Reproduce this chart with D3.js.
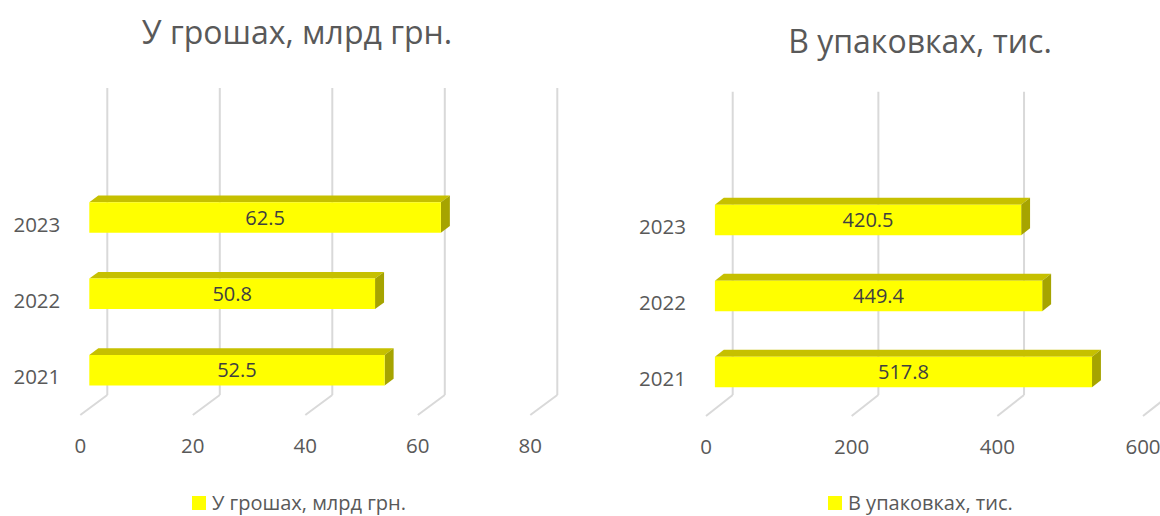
<!DOCTYPE html>
<html>
<head>
<meta charset="utf-8">
<script src="https://cdn.jsdelivr.net/npm/d3@7/dist/d3.min.js"></script>
<style>
  html, body { margin: 0; padding: 0; background: #ffffff; }
  svg { display: block; font-family: "Open Sans", "Noto Sans", sans-serif; }
</style>
</head>
<body>
<svg id="chart" width="1160" height="516"></svg>
<script>
// ---- data ----
const years = ["2021", "2022", "2023"];
const moneyValues = [52.5, 50.8, 62.5];
const packValues = [517.8, 449.4, 420.5];
const moneyTicks = [0, 20, 40, 60, 80];
const packTicks = [0, 200, 400, 600];
const moneyTitle = "У грошах, млрд грн.";
const packTitle = "В упаковках, тис.";

const svg = d3.select("#chart");
const TEXT = "#595959";
const FRONT = "#FFFF00", TOP = "#C6C000", SIDE = "#A6A400";

function drawChart(cfg) {
  const g = svg.append("g");
  const xs = d3.scaleLinear().domain(cfg.domain).range(cfg.xRange);
  const yb = d3.scaleBand().domain(years).range(cfg.yRange).paddingInner(0.6).paddingOuter(0.3);
  const P = (v, y, d) => [xs(v) + cfg.dx * d, y + cfg.dy * d];

  // back-wall gridlines
  g.selectAll("line.grid").data(cfg.ticks).join("line")
    .attr("x1", d => xs(d)).attr("x2", d => xs(d))
    .attr("y1", cfg.gridTop).attr("y2", cfg.floorY)
    .attr("stroke", "#d9d9d9").attr("stroke-width", 2);
  // floor lines
  g.selectAll("line.floor").data(cfg.ticks).join("line")
    .attr("x1", d => P(d, cfg.floorY, 0)[0]).attr("y1", d => P(d, cfg.floorY, 0)[1])
    .attr("x2", d => P(d, cfg.floorY, 1)[0]).attr("y2", d => P(d, cfg.floorY, 1)[1])
    .attr("stroke", "#d9d9d9").attr("stroke-width", 2);

  const rows = years.map((y, i) => ({ year: y, value: cfg.values[i] }));
  const dB = 1 / 3, dF = 2 / 3;
  const poly = pts => pts.map(p => p.join(",")).join(" ");

  const bars = g.selectAll("g.bar").data(rows).join("g");
  bars.each(function (r) {
    const b = d3.select(this);
    const t = yb(r.year), bt = t + yb.bandwidth();
    b.append("polygon").attr("fill", TOP)
      .attr("points", poly([P(0, t, dF), P(0, t, dB), P(r.value, t, dB), P(r.value, t, dF)]));
    b.append("polygon").attr("fill", SIDE)
      .attr("points", poly([P(r.value, t, dF), P(r.value, t, dB), P(r.value, bt, dB), P(r.value, bt, dF)]));
    b.append("polygon").attr("fill", FRONT)
      .attr("points", poly([P(0, t, dF), P(r.value, t, dF), P(r.value, bt, dF), P(0, bt, dF)]));
    const c0 = P(0, (t + bt) / 2, dF), c1 = P(r.value, (t + bt) / 2, dF);
    b.append("text")
      .attr("x", (c0[0] + c1[0]) / 2).attr("y", c0[1]).attr("dy", "0.36em")
      .attr("text-anchor", "middle").attr("fill", "#404040")
      .style("font-size", "20px").text(r.value.toFixed(1));
  });

  // category labels (front plane)
  g.selectAll("text.cat").data(years).join("text")
    .attr("x", P(0, 0, 1)[0] - 20)
    .attr("y", d => yb(d) + yb.bandwidth() / 2 + cfg.dy)
    .attr("dy", "0.36em").attr("text-anchor", "end")
    .attr("fill", TEXT).style("font-size", "20.5px").text(d => d);

  // value tick labels
  g.selectAll("text.tick").data(cfg.ticks).join("text")
    .attr("x", d => P(d, 0, 1)[0])
    .attr("y", cfg.floorY + cfg.dy + 31)
    .attr("dy", "0.36em").attr("text-anchor", "middle")
    .attr("fill", TEXT).style("font-size", "20.5px").text(d => d);

  // title
  g.append("text").attr("x", cfg.titleX).attr("y", cfg.titleY)
    .attr("text-anchor", "middle").attr("fill", TEXT)
    .style("font-size", "32px").text(cfg.title);

  // legend
  g.append("rect").attr("x", cfg.legendX).attr("y", 496).attr("width", 14).attr("height", 14)
    .attr("fill", FRONT);
  g.append("text").attr("x", cfg.legendX + 20).attr("y", 510)
    .attr("fill", TEXT).style("font-size", "20px").text(cfg.title);
}

drawChart({
  values: moneyValues, ticks: moneyTicks, title: moneyTitle,
  domain: [0, 80], xRange: [107.3, 557.3], yRange: [395, 166],
  dx: -27, dy: 20, gridTop: 88, floorY: 395,
  titleX: 297, titleY: 44, legendX: 192
});
drawChart({
  values: packValues, ticks: packTicks, title: packTitle,
  domain: [0, 600], xRange: [732.7, 1169.7], yRange: [396, 168],
  dx: -26.7, dy: 21, gridTop: 91.7, floorY: 395,
  titleX: 920, titleY: 53, legendX: 828
});
</script>
</body>
</html>
